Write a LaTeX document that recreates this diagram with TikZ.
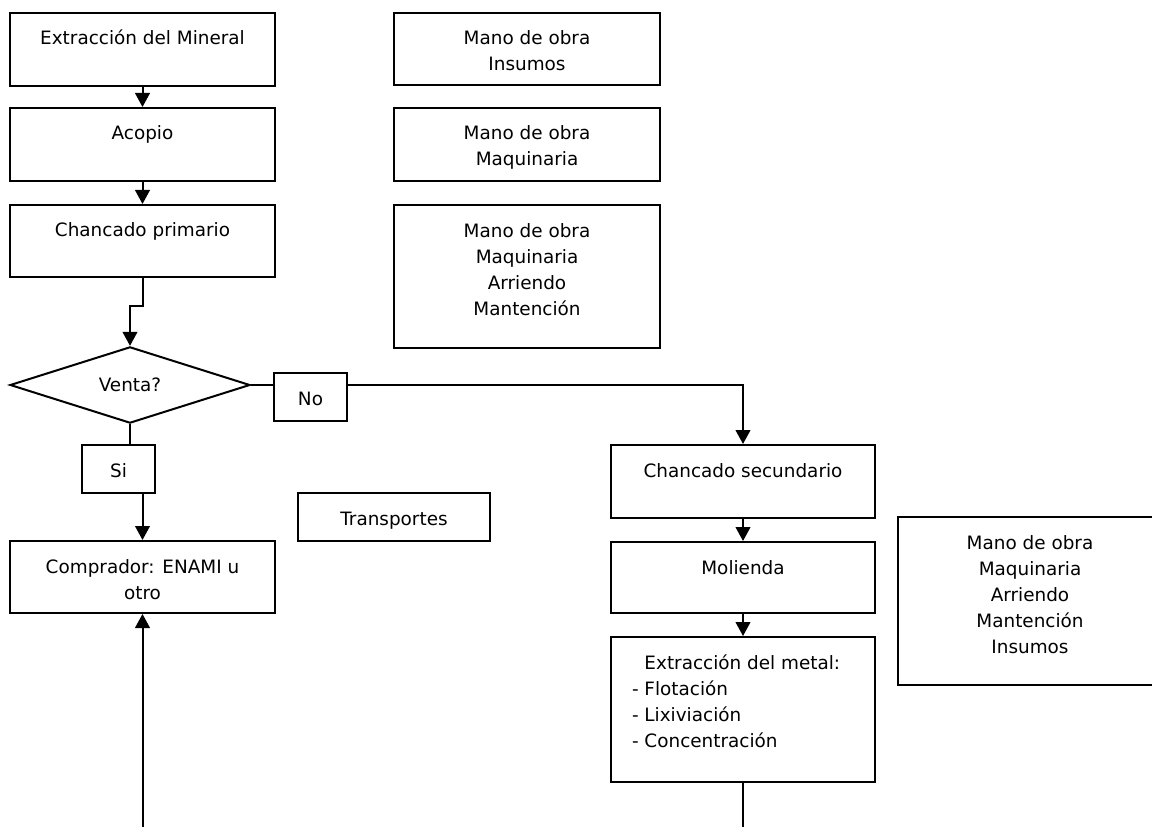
\documentclass[tikz,border=0pt]{standalone}
\usepackage{fontspec}
\setmainfont{DejaVu Sans}
\usetikzlibrary{arrows.meta,shapes.geometric}
\newcommand\diagfont{\fontsize{13.8pt}{19.5pt}\selectfont}
\newcommand\firststrut{\rule{0pt}{14pt}}
\begin{document}
\begin{tikzpicture}[x=0.75pt,y=-0.75pt,line width=1.5pt,
  box/.style 2 args={draw=black,rectangle,inner sep=0pt,minimum width=#1,minimum height=#2},
  lbl/.style={anchor=north,inner sep=0pt,align=center,font=\diagfont},
  flow/.style={-{Triangle[length=10.5pt,width=11pt]}}]
\clip (0,0) rectangle (1152,827);

% main process column
\node[box={198.75pt}{54.75pt}] (extr) at (142.5,49.5) {};
\node[lbl] (extrT) at ([yshift=-10pt]extr.north) {\firststrut Extracción del Mineral};
\node[box={198.75pt}{54.75pt}] (acop) at (142.5,144.5) {};
\node[lbl] (acopT) at ([yshift=-10pt]acop.north) {\firststrut Acopio};
\node[box={198.75pt}{54pt}] (chp) at (142.5,241) {};
\node[lbl] (chpT) at ([yshift=-10pt]chp.north) {\firststrut Chancado primario};
\node[diamond,draw,minimum width=180pt,minimum height=54pt,inner sep=0pt,font=\diagfont] (venta) at (130,385) {Venta?};
\node[box={54.75pt}{36pt}] (no) at (310.5,397) {};
\node[lbl] (noT) at ([yshift=-10pt]no.north) {\firststrut No};
\node[box={54.75pt}{36pt}] (si) at (118.5,469) {};
\node[lbl] (siT) at ([yshift=-10pt]si.north) {\firststrut Si};
\node[box={198.75pt}{54pt}] (comp) at (142.5,577) {};
\node[lbl] (compT) at ([yshift=-10pt]comp.north) {\firststrut Comprador: ENAMI u\\otro};
\node[box={144pt}{36pt}] (trans) at (394,517) {};
\node[lbl] (transT) at ([yshift=-10pt]trans.north) {\firststrut Transportes};

% resources of the first stages
\node[box={199.5pt}{54pt}] (r1) at (527,49) {};
\node[lbl] (r1T) at ([yshift=-10pt]r1.north) {\firststrut Mano de obra\\Insumos};
\node[box={199.5pt}{54.75pt}] (r2) at (527,144.5) {};
\node[lbl] (r2T) at ([yshift=-10pt]r2.north) {\firststrut Mano de obra\\Maquinaria};
\node[box={199.5pt}{107.25pt}] (r3) at (527,276.5) {};
\node[lbl] (r3T) at ([yshift=-10pt]r3.north) {\firststrut Mano de obra\\Maquinaria\\Arriendo\\Mantención};

% processing column
\node[box={198pt}{54.75pt}] (cs) at (743,481.5) {};
\node[lbl] (csT) at ([yshift=-10pt]cs.north) {\firststrut Chancado secundario};
\node[box={198pt}{53.25pt}] (mol) at (743,577.5) {};
\node[lbl] (molT) at ([yshift=-10pt]mol.north) {\firststrut Molienda};
\node[box={198pt}{108.75pt}] (ext) at (743,709.5) {};
\node[lbl,anchor=north west,align=left] (extT) at ([xshift=15.75pt,yshift=-10pt]ext.north west)
  {\firststrut\phantom{- }Extracción del metal:\\- Flotación\\- Lixiviación\\- Concentración};
\node[box={198pt}{126pt}] (r4) at (1030,601) {};
\node[lbl] (r4T) at ([yshift=-10pt]r4.north) {\firststrut Mano de obra\\Maquinaria\\Arriendo\\Mantención\\Insumos};

% connectors
\draw[flow] (extr.south) -- (acop.north);
\draw[flow] (acop.south) -- (chp.north);
\draw[flow] (chp.south) -- ++(0,28) -| (venta.north);
\draw (venta.east) -- (venta.east -| no.west);
\draw[flow] (no.east |- venta.east) -| (cs.north);
\draw (venta.south) -- (venta.south |- si.north);
\draw[flow] (comp.north |- si.south) -- (comp.north);
\coordinate (btmL) at (142.5,830);
\draw[flow] (btmL) -- (comp.south);
\draw[flow] (cs.south) -- (mol.north);
\draw[flow] (mol.south) -- (ext.north);
\coordinate (btmR) at (743,830);
\draw (ext.south) -- (btmR);
\end{tikzpicture}
\end{document}
